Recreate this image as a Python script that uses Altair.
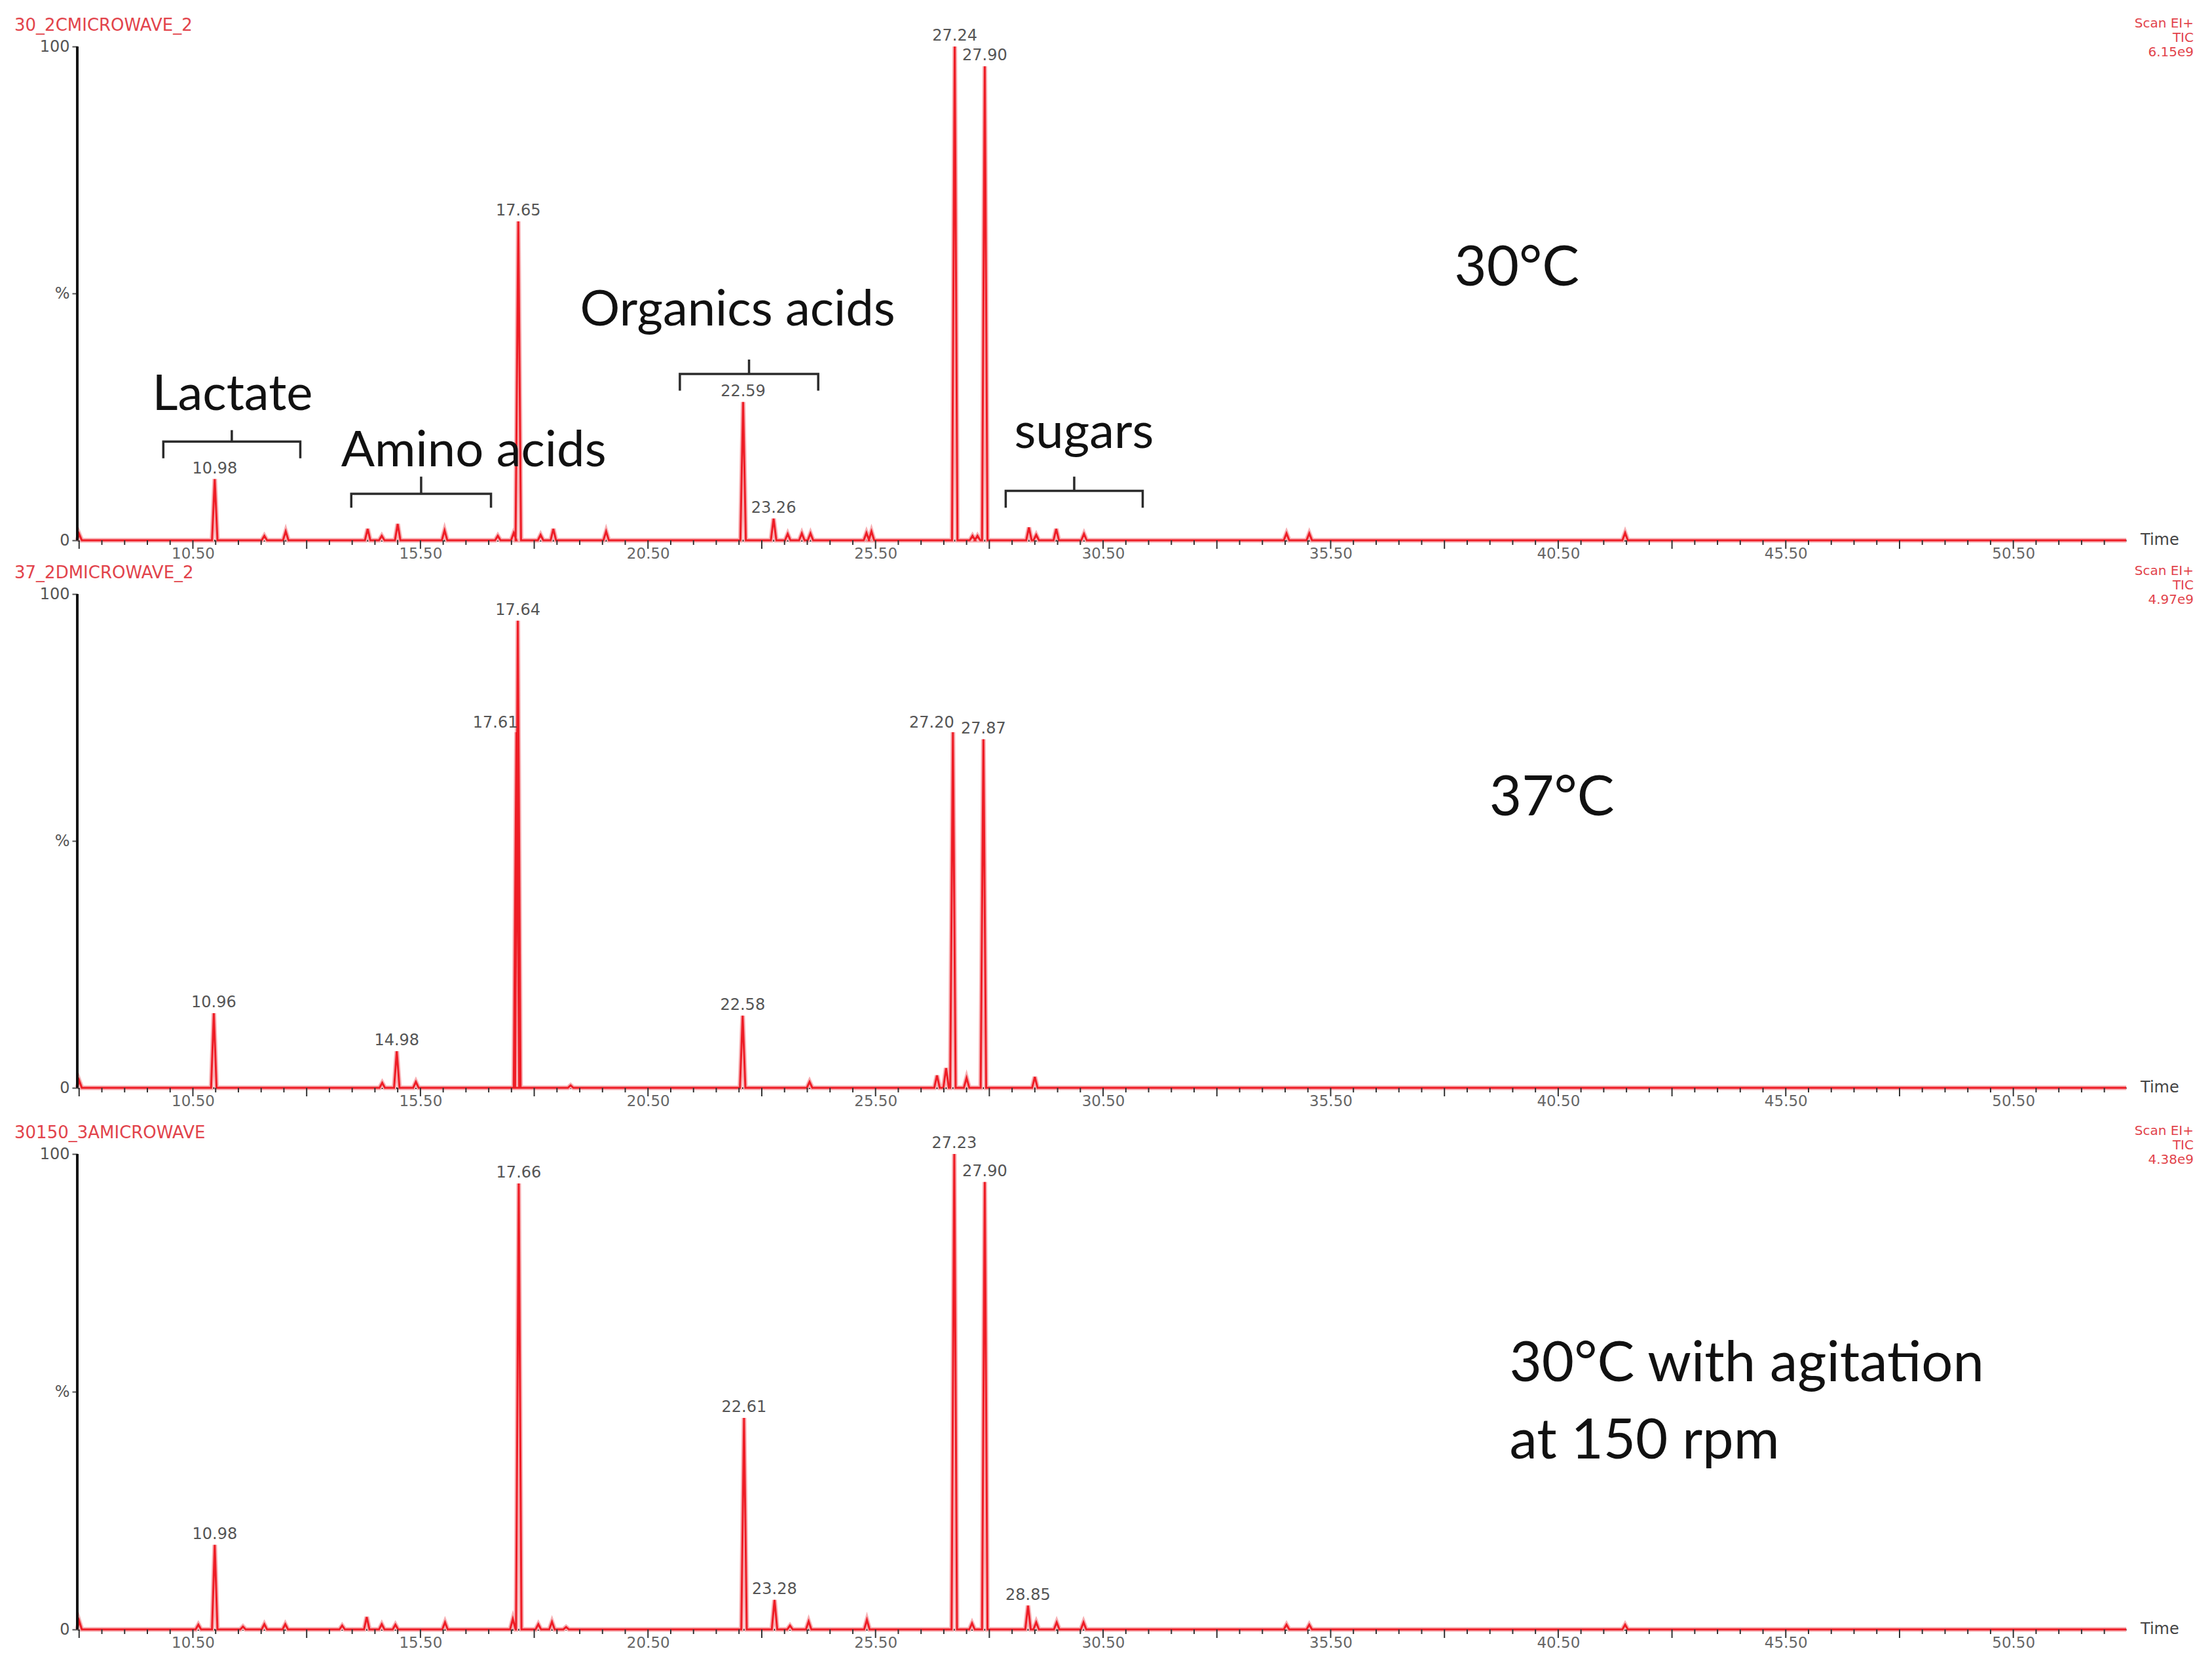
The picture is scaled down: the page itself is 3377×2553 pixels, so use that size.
import altair as alt
import pandas as pd

# ---------------- data ----------------
X_MIN, X_MAX = 7.96, 52.98
PANEL_W = 3128
HALF_W = 0.06

x_label_values = [10.5, 15.5, 20.5, 25.5, 30.5, 35.5, 40.5, 45.5, 50.5]
major_ticks = [8.0, 10.5, 13.0, 15.5, 18.0, 20.5, 23.0, 25.5, 28.0, 30.5,
               33.0, 35.5, 38.0, 40.5, 43.0, 45.5, 48.0, 50.5]
minor_ticks = [round(8.0 + 0.5 * i, 2) for i in range(90) if round(8.0 + 0.5 * i, 2) not in major_ticks]

# Panel 1 : 30 °C
p1_times = [8.00, 10.98, 12.07, 12.54, 14.34, 14.65, 15.00, 16.03, 17.20, 17.55, 17.65,
            18.14, 18.42, 19.58, 22.59, 23.26, 23.57, 23.88, 24.07, 25.30, 25.41, 27.24,
            27.63, 27.74, 27.90, 28.87, 29.03, 29.47, 30.08, 34.53, 35.03, 41.97]
p1_heights = [1.3, 12.4, 0.9, 1.8, 2.3, 0.9, 3.3, 2.0, 0.9, 1.5, 64.6,
              1.1, 2.3, 1.8, 28.0, 4.4, 1.3, 1.4, 1.4, 1.5, 1.8, 100.0,
              0.9, 0.9, 96.0, 2.6, 1.1, 2.3, 1.3, 1.4, 1.4, 1.5]
p1_labels_center = [10.98, 17.65, 22.59, 23.26, 27.24, 27.90]
p1_labels_right = []

# Panel 2 : 37 °C
p2_times = [8.00, 10.96, 14.66, 14.98, 15.40, 17.61, 17.64, 18.80, 22.58, 24.05,
            26.85, 27.05, 27.20, 27.50, 27.87, 29.00]
p2_heights = [1.5, 15.1, 1.0, 7.4, 1.2, 72.0, 94.6, 0.5, 14.6, 1.2,
              2.5, 4.0, 72.0, 2.0, 70.6, 2.2]
p2_labels_center = [10.96, 14.98, 17.64, 22.58, 27.87]
p2_labels_right = [17.61, 27.20]

# Panel 3 : 30 °C with agitation at 150 rpm
p3_times = [8.00, 10.62, 10.98, 11.60, 12.07, 12.53, 13.78, 14.32, 14.65, 14.95, 16.04,
            17.53, 17.66, 18.09, 18.39, 18.70, 22.61, 23.28, 23.62, 24.03, 25.31, 27.23,
            27.62, 27.90, 28.85, 29.03, 29.48, 30.07, 34.53, 35.03, 41.97]
p3_heights = [1.8, 1.0, 17.8, 0.6, 1.1, 1.1, 0.8, 2.6, 1.1, 1.0, 1.5,
              2.2, 93.8, 1.1, 1.6, 0.5, 44.5, 6.2, 0.8, 1.7, 2.0, 100.0,
              1.3, 94.1, 5.0, 1.5, 1.5, 1.5, 1.0, 1.0, 1.0]
p3_labels_center = [10.98, 17.66, 22.61, 23.28, 27.23, 27.90, 28.85]
p3_labels_right = []

sample_names = ["30_2CMICROWAVE_2", "37_2DMICROWAVE_2", "30150_3AMICROWAVE"]
tic_values = ["6.15e9", "4.97e9", "4.38e9"]

# Compound-class brackets (top panel)
bracket_names = ["Lactate", "Amino acids", "Organics acids", "sugars"]
bracket_start = [9.85, 13.98, 21.20, 28.36]
bracket_end = [12.86, 17.05, 24.24, 31.37]
bracket_level = [20.0, 9.4, 33.7, 10.0]
bracket_tip = [16.6, 6.6, 30.3, 6.6]
bracket_nub = [22.3, 12.9, 36.6, 12.9]
bracket_text_t = [11.37, 16.67, 22.47, 30.08]
bracket_text_y = [29.4, 18.0, 46.6, 21.7]

condition_text = ["30°C", "37°C", "30°C with agitation", "at 150 rpm"]
condition_panel = [0, 1, 2, 2]
condition_t = [39.59, 40.36, 39.43, 39.43]
condition_h = [55.1, 58.6, 55.8, 39.5]
condition_align = ["center", "center", "left", "left"]

# ---------------- panel geometry (pixels) ----------------
heights_px = [805, 796, 787]
hundred_px = [754, 754, 726]

RED = "#ee1c25"
HEAD_RED = "#e2434b"
FONT_SMALL = "DejaVu Sans"
FONT_BIG = "Lato"


def peak_line(times, heights):
    ts, hs = [X_MIN], [0.0]
    for t, h in zip(times, heights):
        ts += [max(X_MIN, t - HALF_W), t, t + HALF_W]
        hs += [0.0, h, 0.0]
    ts.append(X_MAX)
    hs.append(0.0)
    return pd.DataFrame({"t": ts, "h": hs, "o": list(range(len(ts)))})


def panel(i, times, heights, labels_c, labels_r):
    h = heights_px[i]
    ymax = 100.0 * h / hundred_px[i]
    y100 = h - hundred_px[i]
    line_df = peak_line(times, heights)
    hmap = dict(zip(times, heights))

    xs = alt.Scale(domain=[X_MIN, X_MAX], nice=False, zero=False)
    ys = alt.Scale(domain=[0, ymax], nice=False, zero=True)
    ax = alt.X("t:Q", scale=xs, axis=alt.Axis(
        values=x_label_values, labelExpr="format(datum.value, '.2f')", ticks=False,
        grid=False, domainColor="#2a2a2a", domainWidth=3, labelFont=FONT_SMALL,
        labelFontSize=23, labelColor="#666666", labelPadding=9, title=None))
    ay = alt.Y("h:Q", scale=ys, axis=alt.Axis(
        values=[0, 50, 100], labelExpr="datum.value == 50 ? '%' : format(datum.value, 'd')",
        domain=False, grid=False, tickSize=8, tickColor="#555555", tickWidth=2,
        labelFont=FONT_SMALL, labelFontSize=24, labelColor="#555555", labelPadding=4,
        title=None))

    layers = []
    layers.append(alt.Chart(line_df).mark_line(color="#f7b0b4", strokeWidth=7).encode(
        x=ax, y=ay, order="o:Q"))
    layers.append(alt.Chart(line_df).mark_line(color=RED, strokeWidth=3).encode(
        x="t:Q", y="h:Q", order="o:Q"))
    # y axis line 0..100
    layers.append(alt.Chart(pd.DataFrame({"a": [0]})).mark_rule(
        color="#111111", strokeWidth=4).encode(
        x=alt.value(0), y=alt.datum(0), y2=alt.datum(100)))
    # x ticks
    layers.append(alt.Chart(pd.DataFrame({"t": minor_ticks})).mark_rule(
        color="#333333", strokeWidth=2).encode(
        x="t:Q", y=alt.value(h), y2=alt.value(h + 7)))
    layers.append(alt.Chart(pd.DataFrame({"t": major_ticks})).mark_rule(
        color="#333333", strokeWidth=2).encode(
        x="t:Q", y=alt.value(h), y2=alt.value(h + 13)))
    # peak labels
    lc = pd.DataFrame({"t": labels_c, "h": [hmap[t] for t in labels_c],
                       "lab": [f"{t:.2f}" for t in labels_c]})
    layers.append(alt.Chart(lc).mark_text(
        font=FONT_SMALL, fontSize=24, color="#555555", baseline="bottom",
        align="center", dy=-4).encode(x="t:Q", y="h:Q", text="lab:N"))
    if labels_r:
        lr = pd.DataFrame({"t": labels_r, "h": [hmap[t] for t in labels_r],
                           "lab": [f"{t:.2f}" for t in labels_r]})
        layers.append(alt.Chart(lr).mark_text(
            font=FONT_SMALL, fontSize=24, color="#555555", baseline="bottom",
            align="right", dy=-2, dx=2).encode(x="t:Q", y="h:Q", text="lab:N"))
    # "Time"
    layers.append(alt.Chart(pd.DataFrame({"txt": ["Time"]})).mark_text(
        font=FONT_SMALL, fontSize=24, color="#444444", align="left",
        baseline="middle").encode(x=alt.value(PANEL_W + 22), y=alt.value(h), text="txt:N"))
    # headers
    layers.append(alt.Chart(pd.DataFrame({"txt": [sample_names[i]]})).mark_text(
        font=FONT_SMALL, fontSize=26, color=HEAD_RED, align="left",
        baseline="middle").encode(x=alt.value(-96), y=alt.value(y100 - 32), text="txt:N"))
    right_lines = ["Scan EI+", "TIC", tic_values[i]]
    right_y = [y100 - 35, y100 - 13, y100 + 9]
    layers.append(alt.Chart(pd.DataFrame({"txt": right_lines, "yy": right_y})).mark_text(
        font=FONT_SMALL, fontSize=20, color=HEAD_RED, align="right",
        baseline="middle").encode(x=alt.value(PANEL_W + 103), y=alt.Y("yy:Q", scale=None),
                                 text="txt:N"))
    # condition labels
    for txt, pi, t, hh, al in zip(condition_text, condition_panel, condition_t,
                                  condition_h, condition_align):
        if pi == i:
            layers.append(alt.Chart(pd.DataFrame({"t": [t], "h": [hh], "txt": [txt]})).mark_text(
                font=FONT_BIG, fontSize=85, color="#111111", align=al,
                baseline="middle").encode(x="t:Q", y="h:Q", text="txt:N"))
    # brackets (top panel)
    if i == 0:
        rows = []
        for name, a, b, lv, tp, nb in zip(bracket_names, bracket_start, bracket_end,
                                          bracket_level, bracket_tip, bracket_nub):
            c = (a + b) / 2
            pts = [(a, tp), (a, lv), (c, lv), (c, nb), (c, lv), (b, lv), (b, tp)]
            for k, (tt, yy) in enumerate(pts):
                rows.append({"g": name, "o": k, "t": tt, "h": yy})
        layers.append(alt.Chart(pd.DataFrame(rows)).mark_line(
            color="#2b2b2b", strokeWidth=3.5).encode(
            x="t:Q", y="h:Q", detail="g:N", order="o:Q"))
        bt = pd.DataFrame({"t": bracket_text_t, "h": bracket_text_y, "txt": bracket_names})
        layers.append(alt.Chart(bt).mark_text(
            font=FONT_BIG, fontSize=76, color="#111111", align="center",
            baseline="middle").encode(x="t:Q", y="h:Q", text="txt:N"))

    return alt.layer(*layers).properties(width=PANEL_W, height=h)


p1 = panel(0, p1_times, p1_heights, p1_labels_center, p1_labels_right)
p2 = panel(1, p2_times, p2_heights, p2_labels_center, p2_labels_right)
p3 = panel(2, p3_times, p3_heights, p3_labels_center, p3_labels_right)

chart = alt.vconcat(p1, p2, p3, spacing=40, bounds="flush").properties(
    padding={"left": 14, "top": 12, "right": 10, "bottom": 10},
    background="white",
).configure_view(strokeWidth=0)

chart.save("out.html", embed_options={"renderer": "svg", "actions": False})
